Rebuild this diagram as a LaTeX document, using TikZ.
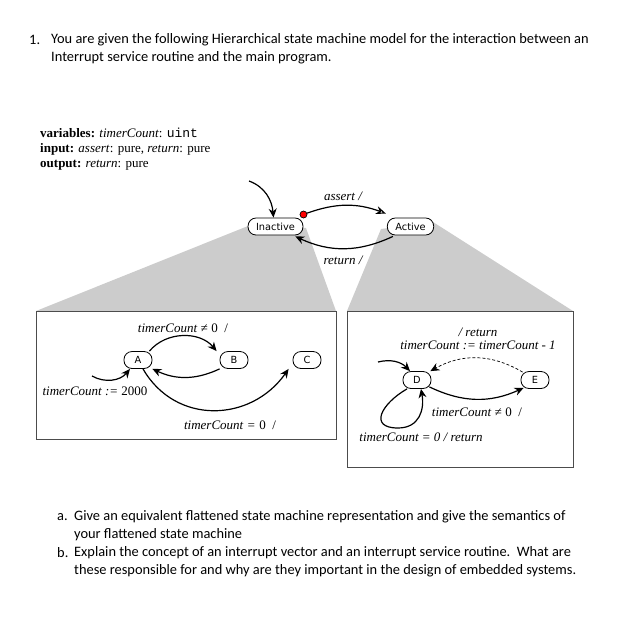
\documentclass[tikz,border=0pt]{standalone}
\usepackage{fontspec}
\setmainfont{Carlito}
\newfontfamily\serifl{Liberation Serif}
\newfontfamily\statef{DejaVu Sans}
\newfontfamily\monof{Liberation Mono}
\usetikzlibrary{arrows.meta,positioning}

\begin{document}
\begin{tikzpicture}[x=1pt,y=1pt,
	state/.style={draw,line width=0.8pt,rounded corners=8pt,fill=white,minimum height=17pt,minimum width=28pt,inner xsep=8pt,inner ysep=0pt,font=\statef\fontsize{9.8}{10}\selectfont},
	trans/.style={line width=1.2pt,-{Stealth[length=9pt,width=8pt]}},
	lbl/.style={inner sep=0pt,font=\serifl\itshape\fontsize{13}{14}\selectfont},
	body/.style={anchor=west,inner sep=0pt,font=\fontsize{14.4}{17}\selectfont},
	decl/.style={anchor=west,inner sep=0pt,font=\serifl\fontsize{13}{15}\selectfont},
	zoomarea/.style={fill=black!20},
	panel/.style={draw=black!70,line width=0.9pt}]
	\useasboundingbox (0,0) rectangle (628,-630);

	\node[body] (n1) at (29,-40) {1.};
	\node[body] (q1) at (51,-40) {You are given the following Hierarchical state machine model for the interaction between an};
	\node[body] (q1b) at (51,-58) {Interrupt service routine and the main program.};

	\node[decl] (v1) at (40,-133) {\textbf{variables:} \textit{timerCount}: {\monof uint}};
	\node[decl] (v2) at (40,-149) {\textbf{input:} \textit{assert}: pure, \textit{return}: pure};
	\node[decl] (v3) at (40,-165) {\textbf{output:} \textit{return}: pure};

	\fill[zoomarea] (248,-226) -- (36,-311) -- (336,-311) -- (306,-228) -- cycle;
	\fill[zoomarea] (381,-229) -- (347,-311) -- (573,-311) -- (433,-222) -- cycle;
	\draw[panel,fill=white] (36,-311) rectangle (336,-439);
	\draw[panel,fill=white] (347,-311) rectangle (573,-467);

	\node[state] (Inactive) at (275.5,-226.5) {Inactive};
	\node[state] (Active) at (410.5,-226.5) {Active};
	\node[draw,fill=red,circle,inner sep=0pt,minimum size=7pt,line width=0.7pt] (dot) at (303.5,-214.5) {};
	\coordinate (i0) at (249,-181);
	\draw[trans] (i0) to[out=-20,in=95] ([xshift=-2pt]Inactive.north);
	\draw[line width=1.2pt,-{Stealth[open,length=10pt,width=8pt]}] (dot) to[bend left=20] ([xshift=-1pt,yshift=4pt]Active.north west);
	\draw[trans] ([xshift=6pt,yshift=-1pt]Active.south west) to[bend left=25] ([xshift=-8pt,yshift=-1pt]Inactive.south east);
	\node[lbl] (la) at (343,-196) {assert /};
	\node[lbl] (lr) at (343,-260) {return /};

	\node[state] (A) at (138,-360) {A};
	\node[state] (B) at (234,-360) {B};
	\node[state] (C) at (307,-360) {C};
	\coordinate (a0) at (92,-376);
	\draw[trans] (a0) to[bend right=40] ([xshift=-8pt]A.south);
	\draw[trans] ([xshift=-3pt]A.north east) to[bend left=50] ([xshift=-3pt]B.north west);
	\draw[trans] (B.south west) to[bend left=25] (A.south east);
	\draw[trans] ([xshift=5pt]A.south) to[out=-60,in=-125,looseness=1.15] ([xshift=-4pt]C.south west);
	\node[lbl] (l1) at (183,-328) {timerCount\;≠\;\upshape0\enspace/};
	\node[lbl] (l2) at (95,-391) {timerCount := \upshape2000};
	\node[lbl] (l3) at (230,-425) {timerCount\;=\;\upshape0\enspace/};

	\node[state] (D) at (417,-380) {D};
	\node[state] (E) at (535,-380) {E};
	\coordinate (d0) at (378,-362);
	\coordinate (dloop) at (398,-428);
	\draw[trans] (d0) to[bend left=30] ([xshift=-7pt]D.north);
	\draw[line width=0.7pt,densely dashed,-{Stealth[length=9pt,width=8pt]}] ([xshift=2pt,yshift=-1pt]E.north west) to[bend right=30] ([xshift=-1pt]D.north east);
	\draw[trans] ([xshift=-2pt,yshift=2pt]D.south east) to[bend right=25] ([xshift=3pt,yshift=1pt]E.south west);
	\draw[trans] ([xshift=-10pt]D.south) to[out=210,in=180,looseness=1.9] (dloop) to[out=0,in=-80,looseness=1.2] ([xshift=4pt]D.south);
	\node[lbl] (l4) at (478,-332) {/ return};
	\node[lbl] (l5) at (478,-345) {timerCount := timerCount - 1};
	\node[lbl] (l6) at (477,-412) {timerCount\;≠\;\upshape0\enspace/};
	\node[lbl] (l7) at (421,-437) {timerCount = 0 / return};

	\node[body] (na) at (57,-517) {a.};
	\node[body] (qa) at (74,-517) {Give an equivalent flattened state machine representation and give the semantics of};
	\node[body] (qa2) at (74,-535) {your flattened state machine};
	\node[body] (nb) at (57,-553) {b.};
	\node[body] (qb) at (74,-553) {Explain the concept of an interrupt vector and an interrupt service routine.\ \ What are};
	\node[body] (qb2) at (74,-571) {these responsible for and why are they important in the design of embedded systems.};
\end{tikzpicture}
\end{document}
